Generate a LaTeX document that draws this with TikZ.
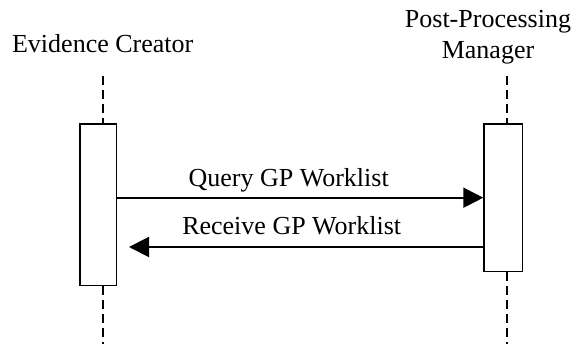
\documentclass[tikz,border=0pt]{standalone}
\usepackage{fontspec}
\setmainfont{Liberation Serif}
\usepackage{tikz}
\usetikzlibrary{arrows.meta,positioning,calc}
\tikzset{
  % 文字
  every node/.append style={font=\fontsize{26}{31.7}\selectfont},
  % 生命线
  lifeline/.style={dash pattern=on 9pt off 5pt, line width=1.5pt},
  % 激活框
  actbox/.style={draw, fill=white, line width=1.5pt, inner sep=0pt},
  % 消息箭头
  msg/.style={-{Triangle[length=20pt,width=20pt]}, line width=2pt},
  msglab/.style={anchor=base, inner sep=0pt},
}
\begin{document}
\begin{tikzpicture}[x=1pt,y=1pt]
  \useasboundingbox (0,0) rectangle (574,344);

  % Participants
  \node[msglab] (ec) at (102.7,291.7) {Evidence Creator};
  \node[msglab, align=center] (ppm) at (488,285) {Post-Processing\\Manager};

  % Lifelines
  \coordinate (ectop) at (103,268);
  \coordinate (ppmtop) at (507,268);
  \draw[lifeline] (ectop) -- (ectop |- 0,0);
  \draw[lifeline] (ppmtop) -- (ppmtop |- 0,0);

  % Activation boxes
  \node[actbox, minimum width=36.7pt, minimum height=161.7pt] (ecbox) at (98.3,139.2) {};
  \node[actbox, minimum width=38.3pt, minimum height=147.7pt] (ppmbox) at (503.2,146.2) {};

  % Messages
  \coordinate (qy) at (0,146.3);
  \coordinate (ry) at (0,97);
  \draw[msg] (ecbox.east |- qy) -- (ppmbox.west |- qy);
  \coordinate (rend) at ([xshift=11.6pt]ecbox.east |- ry);
  \draw[msg] (ppmbox.west |- ry) -- (rend);

  % Labels
  \node[msglab] (qlab) at (288.7,157.3) {Query GP Worklist};
  \node[msglab] (rlab) at (291.7,109) {Receive GP Worklist};
\end{tikzpicture}
\end{document}
